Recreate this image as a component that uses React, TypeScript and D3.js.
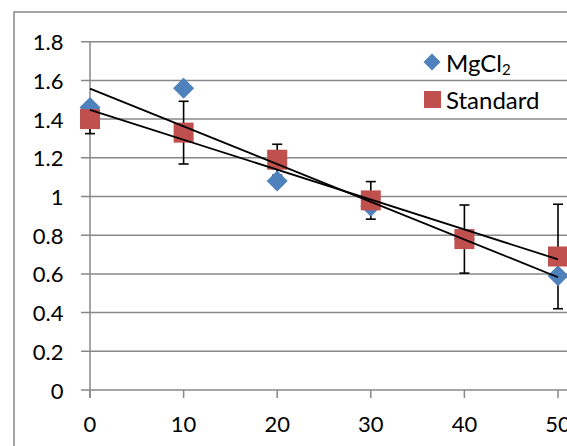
import React from "react";
import * as d3 from "d3";

const xValues = [0, 10, 20, 30, 40, 50];
const mgcl2 = [1.46, 1.56, 1.08, 0.95, 0.78, 0.59];
const standard = [1.4, 1.33, 1.19, 0.98, 0.78, 0.69];
const standardErr = [0.075, 0.162, 0.08, 0.097, 0.176, 0.27];
const yTicks = [0, 0.2, 0.4, 0.6, 0.8, 1, 1.2, 1.4, 1.6, 1.8];
const xTicks = [0, 10, 20, 30, 40, 50];

const W = 567;
const H = 446;
const FONT = "Lato, 'Open Sans', sans-serif";

function regression(xs: number[], ys: number[]) {
  const mx = d3.mean(xs)!;
  const my = d3.mean(ys)!;
  let sxy = 0;
  let sxx = 0;
  xs.forEach((x, i) => {
    sxy += (x - mx) * (ys[i] - my);
    sxx += (x - mx) * (x - mx);
  });
  const slope = sxy / sxx;
  return { slope, intercept: my - slope * mx };
}

export default function App() {
  const x = d3.scaleLinear().domain([0, 50]).range([90, 558]);
  const y = d3.scaleLinear().domain([0, 1.8]).range([390, 41.7]);
  const grid = "#888888";

  const diamond = (cx: number, cy: number, r: number) =>
    `M${cx},${cy - r}L${cx + r},${cy}L${cx},${cy + r}L${cx - r},${cy}Z`;

  const fits = [regression(xValues, mgcl2), regression(xValues, standard)];

  return (
    <svg
      width={W}
      height={H}
      style={{ position: "fixed", left: 0, top: 0, background: "#fff" }}
      fontFamily={FONT}
    >
      <rect x={0} y={0} width={W} height={H} fill="#fff" />
      {/* outer chart border */}
      <path d={`M14,${H}V12H${W}`} fill="none" stroke={grid} strokeWidth={1.5} />
      {/* gridlines + y ticks */}
      {yTicks.map((t) => (
        <g key={t}>
          <line x1={81} x2={W} y1={y(t)} y2={y(t)} stroke={grid} strokeWidth={1.5} />
          <text
            x={63.5}
            y={y(t)}
            textAnchor="end"
            dominantBaseline="central"
            fontSize={22}
            fill="#000"
          >
            {t}
          </text>
        </g>
      ))}
      {/* y axis */}
      <line x1={x(0)} x2={x(0)} y1={y(1.8)} y2={y(0) + 8} stroke={grid} strokeWidth={1.5} />
      {/* x ticks */}
      {xTicks.map((t) => (
        <g key={t}>
          <line x1={x(t)} x2={x(t)} y1={y(0)} y2={y(0) + 8} stroke={grid} strokeWidth={1.5} />
          <text
            x={x(t)}
            y={423}
            textAnchor="middle"
            dominantBaseline="central"
            fontSize={22}
            fill="#000"
          >
            {t}
          </text>
        </g>
      ))}
      {/* error bars (Standard) */}
      {xValues.map((xv, i) => {
        const cx = x(xv);
        const top = y(standard[i] + standardErr[i]);
        const bot = y(standard[i] - standardErr[i]);
        return (
          <g key={xv} stroke="#000" strokeWidth={1.6}>
            <line x1={cx} x2={cx} y1={top} y2={bot} />
            <line x1={cx - 5} x2={cx + 5} y1={top} y2={top} />
            <line x1={cx - 5} x2={cx + 5} y1={bot} y2={bot} />
          </g>
        );
      })}
      {/* MgCl2 diamonds */}
      {xValues.map((xv, i) => (
        <path key={xv} d={diamond(x(xv), y(mgcl2[i]), 10.5)} fill="#4F81BD" />
      ))}
      {/* Standard squares */}
      {xValues.map((xv, i) => (
        <rect
          key={xv}
          x={x(xv) - 10}
          y={y(standard[i]) - 10}
          width={20}
          height={20}
          fill="#C0504D"
        />
      ))}
      {/* trendlines */}
      {fits.map((f, i) => (
        <line
          key={i}
          x1={x(0)}
          y1={y(f.intercept)}
          x2={x(50)}
          y2={y(f.intercept + f.slope * 50)}
          stroke="#000"
          strokeWidth={1.8}
        />
      ))}
      {/* legend */}
      <path d={diamond(432, 62, 8.5)} fill="#4F81BD" />
      <text x={446} y={62} dominantBaseline="central" fontSize={24} fill="#000">
        MgCl
        <tspan fontSize={15} dy={7}>2</tspan>
      </text>
      <rect x={424} y={91} width={17} height={17} fill="#C0504D" />
      <text x={446} y={99} dominantBaseline="central" fontSize={24} fill="#000">
        Standard
      </text>
    </svg>
  );
}
